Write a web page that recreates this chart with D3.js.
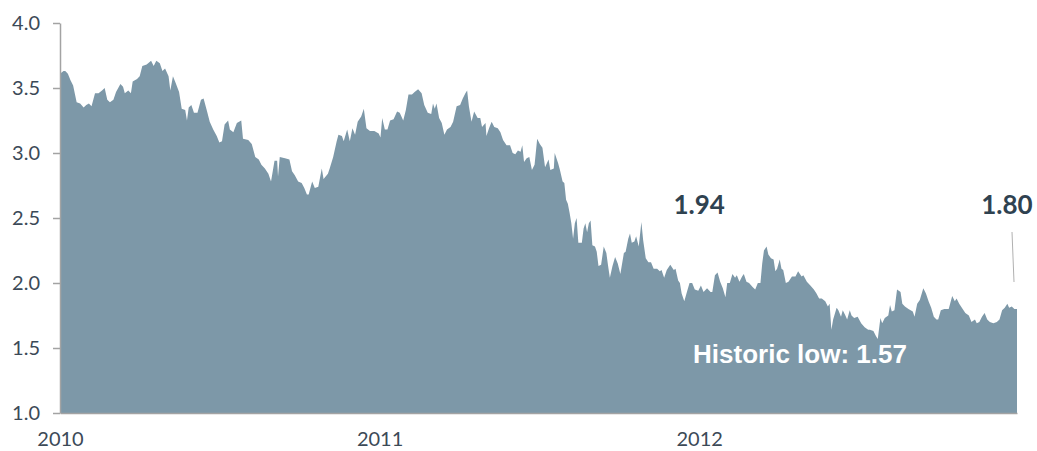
<!DOCTYPE html>
<html>
<head>
<meta charset="utf-8">
<script src="https://cdn.jsdelivr.net/npm/d3@7"></script>
<style>
  html, body { margin: 0; padding: 0; background: #fff; }
  .tick text { font-family: Lato, "Open Sans", sans-serif; font-size: 20px; fill: #3c4a57; }
</style>
</head>
<body>
<svg id="chart" width="1037" height="451"></svg>
<script>
// daily yield readings, split per year (MM-DD / value)
const dates2010 = ["01-01","01-05","01-07","01-10","01-13","01-16","01-20","01-24","01-28","01-31","02-03","02-06","02-10","02-14","02-18","02-21","02-24","02-27","03-03","03-06","03-11","03-14","03-16","03-20","03-23","03-25","03-30","04-02","04-05","04-10","04-15","04-18","04-21","04-25","04-28","05-01","05-05","05-07","05-10","05-13","05-17","05-20","05-24","05-26","05-28","05-31","06-03","06-07","06-11","06-14","06-18","06-21","06-25","06-29","07-02","07-05","07-08","07-12","07-14","07-18","07-22","07-27","07-29","08-04","08-08","08-12","08-16","08-19","08-23","08-27","08-30","09-03","09-06","09-07","09-09","09-15","09-20","09-23","09-26","09-30","10-04","10-07","10-10","10-12","10-16","10-19","10-23","10-27","10-29","11-03","11-05","11-09","11-13","11-15","11-19","11-21","11-25","11-28","12-01","12-04","12-07","12-11","12-14","12-17","12-21","12-26","12-31"];
const yields2010 = [3.61,3.63,3.63,3.61,3.56,3.52,3.39,3.38,3.35,3.37,3.38,3.36,3.46,3.46,3.48,3.50,3.41,3.39,3.41,3.47,3.53,3.51,3.46,3.48,3.46,3.55,3.57,3.59,3.67,3.68,3.71,3.67,3.71,3.69,3.63,3.65,3.59,3.48,3.59,3.54,3.47,3.34,3.33,3.25,3.35,3.37,3.31,3.31,3.41,3.42,3.32,3.24,3.18,3.13,3.08,3.09,3.22,3.25,3.18,3.16,3.23,3.25,3.11,3.10,3.07,2.97,2.95,2.91,2.88,2.84,2.78,2.94,2.94,2.82,2.97,2.96,2.95,2.86,2.83,2.78,2.77,2.73,2.68,2.68,2.78,2.73,2.74,2.88,2.80,2.84,2.88,2.97,3.09,3.14,3.13,3.09,3.18,3.09,3.19,3.14,3.24,3.28,3.34,3.19,3.17,3.17,3.15];

const dates2011 = ["01-02","01-04","01-07","01-10","01-13","01-17","01-21","01-24","01-28","01-31","02-03","02-07","02-10","02-14","02-18","02-21","02-25","03-01","03-03","03-05","03-07","03-10","03-13","03-16","03-19","03-23","03-26","03-30","04-03","04-06","04-09","04-11","04-13","04-16","04-19","04-23","04-26","04-28","05-02","05-03","05-06","05-09","05-12","05-16","05-19","05-22","05-26","05-30","06-02","06-05","06-08","06-11","06-13","06-15","06-18","06-21","06-24","06-27","06-30","07-03","07-06","07-09","07-13","07-15","07-19","07-20","07-24","07-26","07-29","07-31","08-02","08-04","08-06","08-08","08-10","08-12","08-14","08-16","08-20","08-22","08-24","08-26","08-28","08-30","09-01","09-04","09-06","09-08","09-11","09-14","09-17","09-19","09-21","09-24","09-27","09-30","10-03","10-07","10-09","10-12","10-14","10-16","10-19","10-21","10-24","10-27","10-29","11-01","11-04","11-07","11-10","11-14","11-17","11-19","11-22","11-25","11-29","12-03","12-05","12-08","12-10","12-12","12-15","12-18","12-21","12-24","12-27","12-31"];
const yields2011 = [3.12,3.27,3.18,3.18,3.25,3.26,3.32,3.31,3.25,3.33,3.45,3.45,3.47,3.49,3.46,3.37,3.31,3.30,3.38,3.34,3.38,3.27,3.23,3.14,3.18,3.20,3.24,3.36,3.37,3.42,3.46,3.48,3.36,3.24,3.32,3.27,3.27,3.20,3.23,3.13,3.19,3.24,3.20,3.19,3.16,3.10,3.06,3.06,3.00,2.99,3.02,3.01,3.06,2.93,2.96,2.97,2.87,2.91,3.11,3.07,3.04,2.89,2.95,2.87,2.88,3.00,2.92,2.87,2.78,2.77,2.64,2.61,2.54,2.46,2.34,2.46,2.50,2.31,2.31,2.42,2.46,2.39,2.46,2.48,2.29,2.28,2.24,2.13,2.14,2.28,2.23,2.13,2.04,2.13,2.20,2.15,2.07,2.23,2.24,2.34,2.38,2.31,2.32,2.36,2.28,2.47,2.33,2.19,2.16,2.16,2.11,2.11,2.09,2.10,2.04,2.10,2.14,2.10,2.11,2.02,2.00,1.92,1.86,1.93,2.00,2.00,1.95,1.94];

const dates2012 = ["01-03","01-06","01-10","01-14","01-16","01-19","01-22","01-25","01-28","01-31","02-02","02-05","02-08","02-11","02-13","02-16","02-19","02-21","02-24","02-27","03-02","03-05","03-08","03-11","03-13","03-15","03-18","03-20","03-23","03-26","03-28","03-30","04-02","04-04","04-06","04-09","04-12","04-16","04-20","04-23","04-27","04-29","05-03","05-07","05-11","05-14","05-17","05-20","05-24","05-27","05-29","05-31","06-02","06-06","06-08","06-11","06-13","06-16","06-18","06-21","06-23","06-26","06-30","07-04","07-08","07-12","07-14","07-18","07-21","07-23","07-26","07-28","07-31","08-04","08-06","08-08","08-11","08-14","08-18","08-20","08-23","08-27","09-01","09-03","09-06","09-09","09-13","09-16","09-19","09-22","09-25","09-28","09-30","10-03","10-07","10-12","10-16","10-19","10-21","10-24","10-27","10-31","11-04","11-07","11-11","11-13","11-16","11-19","11-22","11-25","11-28","12-02","12-06","12-09","12-12","12-15","12-18","12-20","12-23","12-26","12-29"];
const yields2012 = [1.98,1.93,1.96,1.93,1.93,2.06,2.08,2.01,1.96,1.89,2.00,2.00,2.07,2.04,2.06,2.01,2.05,2.07,2.01,2.00,1.97,1.95,2.00,2.00,2.15,2.25,2.28,2.22,2.19,2.18,2.09,2.11,2.18,2.11,2.10,2.00,2.01,2.05,2.05,2.09,2.05,2.06,2.01,1.98,1.95,1.92,1.88,1.88,1.86,1.82,1.84,1.64,1.72,1.81,1.79,1.74,1.79,1.75,1.72,1.79,1.75,1.73,1.74,1.69,1.66,1.64,1.64,1.63,1.59,1.57,1.73,1.69,1.73,1.75,1.83,1.78,1.79,1.95,1.93,1.84,1.82,1.80,1.78,1.74,1.84,1.87,1.96,1.92,1.86,1.81,1.74,1.72,1.72,1.79,1.80,1.80,1.90,1.86,1.88,1.84,1.81,1.77,1.75,1.70,1.72,1.69,1.70,1.74,1.77,1.72,1.70,1.69,1.70,1.72,1.79,1.81,1.84,1.81,1.82,1.80,1.80];

const yTicks = [1.0, 1.5, 2.0, 2.5, 3.0, 3.5, 4.0];
const xTickYears = ["2010", "2011", "2012"];
const callouts = ["1.94", "1.80"];
const lowLabel = "Historic low: 1.57";

const parse = d3.timeParse("%Y-%m-%d");
const data = [];
[["2010", dates2010, yields2010], ["2011", dates2011, yields2011], ["2012", dates2012, yields2012]]
  .forEach(([yr, ds, vs]) => ds.forEach((d, i) => data.push({ date: parse(yr + "-" + d), value: vs[i] })));

const svg = d3.select("#chart");
const x = d3.scaleTime().domain(d3.extent(data, d => d.date)).range([60, 1017]);
const y = d3.scaleLinear().domain([1, 4]).range([413, 23]);

const area = d3.area()
  .x(d => x(d.date))
  .y0(y(1))
  .y1(d => y(d.value));

svg.append("path")
  .datum(data)
  .attr("d", area)
  .attr("fill", "#7d98a8");

// axes
svg.append("g")
  .attr("transform", "translate(60,0)")
  .call(d3.axisLeft(y).tickValues(yTicks).tickFormat(d3.format(".1f")).tickSize(7).tickSizeOuter(0).tickPadding(13));

svg.append("g")
  .attr("transform", "translate(0,413)")
  .call(d3.axisBottom(x).tickValues(xTickYears.map(t => parse(t + "-01-01"))).tickFormat(d3.timeFormat("%Y")).tickSize(0).tickPadding(19));

svg.selectAll(".domain, .tick line").attr("stroke", "#a3a3a3").attr("stroke-width", 1.5);

// callouts
const last = data[data.length - 1];
svg.append("text")
  .attr("x", x(parse("2012-01-01")))
  .attr("y", 214)
  .attr("text-anchor", "middle")
  .style("font-family", "Lato, sans-serif").style("font-weight", 700).style("font-size", "26px")
  .attr("fill", "#2f4250")
  .text(callouts[0]);

svg.append("text")
  .attr("x", x(last.date) - 10)
  .attr("y", 214)
  .attr("text-anchor", "middle")
  .style("font-family", "Lato, sans-serif").style("font-weight", 700).style("font-size", "26px")
  .attr("fill", "#2f4250")
  .text(callouts[1]);

svg.append("line")
  .attr("x1", x(last.date) - 5).attr("y1", 232)
  .attr("x2", x(last.date) - 3).attr("y2", 282)
  .attr("stroke", "#b0b0b0").attr("stroke-width", 1);

svg.append("text")
  .attr("x", 800)
  .attr("y", 363)
  .attr("text-anchor", "middle")
  .style("font-family", "'Liberation Sans', Arial, sans-serif").style("font-weight", 700).style("font-size", "26px")
  .attr("fill", "#ffffff")
  .text(lowLabel);
</script>
</body>
</html>
